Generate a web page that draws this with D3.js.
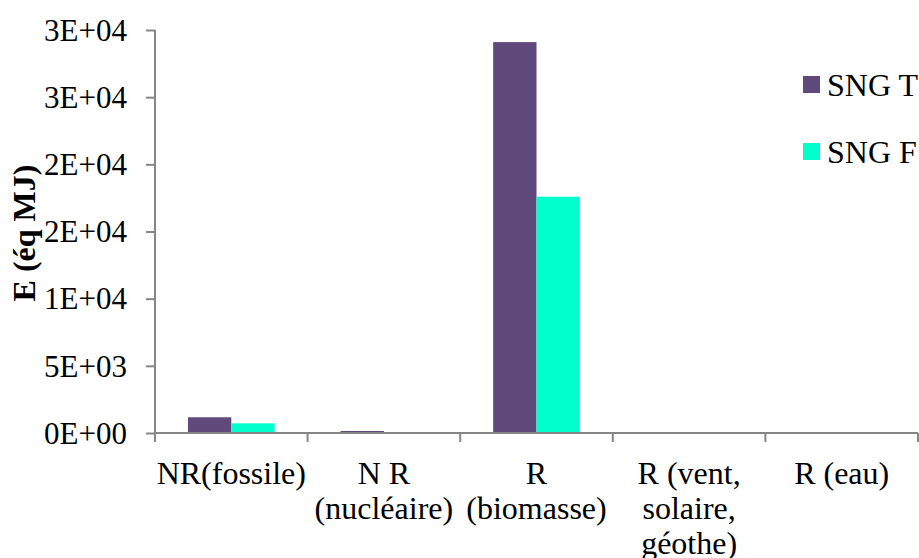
<!DOCTYPE html>
<html><head><meta charset="utf-8">
<script src="https://cdn.jsdelivr.net/npm/d3@7"></script>
</head><body style="margin:0">
<svg id="c" width="919" height="558" font-family="'Liberation Serif', 'Times New Roman', Times, serif"></svg>
<script>
const categories = ["NR(fossile)", "N R (nucléaire)", "R (biomasse)", "R (vent, solaire, géothe)", "R (eau)"];
const categoryLines = [["NR(fossile)"], ["N R", "(nucléaire)"], ["R", "(biomasse)"], ["R (vent,", "solaire,", "géothe)"], ["R (eau)"]];
const seriesNames = ["SNG T", "SNG F"];
const sngT = [1170, 150, 29100, 0, 0];
const sngF = [720, 10, 17590, 0, 0];
const yTickValues = [0, 5000, 10000, 15000, 20000, 25000, 30000];
const yTickLabels = ["0E+00", "5E+03", "1E+04", "2E+04", "2E+04", "3E+04", "3E+04"];
const colors = ["#5F4A7B", "#00FFCC"];

const FONT = "'Liberation Serif', 'Times New Roman', Times, serif";
const svg = d3.select("#c");
const L = 155, R = 918, T = 30, B = 433;
const x = d3.scaleBand().domain(categories).range([L, R]).padding(0);
const x1 = d3.scaleBand().domain(seriesNames).range([0, x.bandwidth()]).paddingInner(0).paddingOuter(0.76);
const y = d3.scaleLinear().domain([0, 30000]).range([B, T]);
const axisColor = "#868686";
const series = [sngT, sngF];

// bars
seriesNames.forEach((s, si) => {
  svg.append("g").selectAll("rect").data(categories).join("rect")
    .attr("x", c => x(c) + x1(s))
    .attr("width", x1.bandwidth())
    .attr("y", (c, i) => y(series[si][i]))
    .attr("height", (c, i) => B - y(series[si][i]))
    .attr("fill", colors[si]);
});

// y axis
const yAxis = d3.axisLeft(y).tickValues(yTickValues).tickSize(9).tickPadding(19)
  .tickFormat((d, i) => yTickLabels[i]);
const gy = svg.append("g").attr("transform", `translate(${L},0)`).call(yAxis);
gy.attr("font-family", FONT).attr("font-size", 31);
gy.select(".domain").attr("stroke", axisColor).attr("stroke-width", 2).attr("d", `M0,${T}V${B + 9}`);
gy.selectAll(".tick line").attr("stroke", axisColor).attr("stroke-width", 2);
gy.selectAll(".tick text").style("font-family", FONT).style("font-size", "31px")
  .attr("fill", "#000").attr("dy", "0.33em");

// x axis
const boundaries = categories.map(c => x(c)).concat([R]);
svg.append("line").attr("x1", L).attr("x2", R).attr("y1", B).attr("y2", B)
  .attr("stroke", axisColor).attr("stroke-width", 2);
svg.append("g").selectAll("line").data(boundaries).join("line")
  .attr("x1", d => d).attr("x2", d => d).attr("y1", B).attr("y2", B + 9)
  .attr("stroke", axisColor).attr("stroke-width", 2);

// category labels
const lab = svg.append("g").selectAll("text").data(categories).join("text")
  .attr("transform", c => `translate(${x(c) + x.bandwidth() / 2},484)`)
  .attr("text-anchor", "middle")
  .style("font-family", FONT).style("font-size", "32px").attr("fill", "#000");
lab.each(function(c, i) {
  d3.select(this).selectAll("tspan").data(categoryLines[i]).join("tspan")
    .attr("x", 0).attr("y", (d, j) => j * 35).text(d => d);
});

// y title
svg.append("text").attr("transform", "translate(35,233) rotate(-90)")
  .attr("text-anchor", "middle")
  .style("font-family", FONT).style("font-size", "32px").style("font-weight", "bold").attr("fill", "#000")
  .text("E (éq MJ)");

// legend
const leg = svg.append("g").selectAll("g").data(seriesNames).join("g")
  .attr("transform", (d, i) => `translate(803,${76 + i * 67})`);
leg.append("rect").attr("width", 17).attr("height", 17).attr("fill", (d, i) => colors[i]);
leg.append("text").attr("x", 24).attr("y", 20)
  .style("font-family", FONT).style("font-size", "32px").attr("fill", "#000").text(d => d);
</script>
</body></html>
